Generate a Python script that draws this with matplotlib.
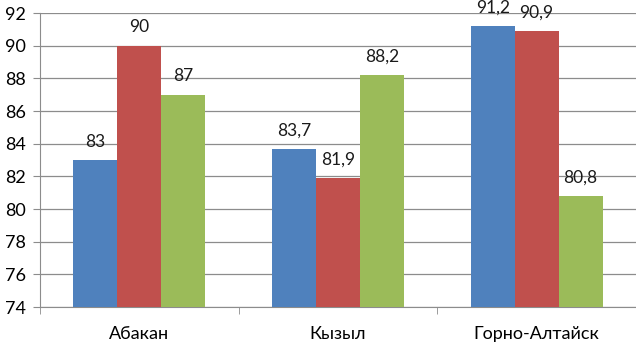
import numpy as np
import matplotlib.pyplot as plt

categories = ["Абакан", "Кызыл", "Горно-Алтайск"]
series_a = [83, 83.7, 91.2]
series_b = [90, 81.9, 90.9]
series_c = [87, 88.2, 80.8]
yticks = [74, 76, 78, 80, 82, 84, 86, 88, 90, 92]

colors = ["#4F81BD", "#C0504D", "#9BBB59"]
plt.rcParams["font.family"] = ["Lato", "DejaVu Sans"]

fig = plt.figure(figsize=(6.36, 3.45), dpi=100)
ax = fig.add_axes([40 / 636, 1 - 307 / 345, 1 - 40 / 636, (307 - 13) / 345])

x = np.arange(len(categories))
w = 0.221
for i, vals in enumerate([series_a, series_b, series_c]):
    pos = x + (i - 1) * w
    ax.bar(pos, vals, width=w, color=colors[i], zorder=3)
    for px, v in zip(pos, vals):
        lbl = f"{v:g}".replace(".", ",")
        ax.annotate(lbl, (px, v), xytext=(0, 9.5), textcoords="offset points",
                    ha="center", va="baseline", fontsize=12.5, color="#1a1a1a",
                    annotation_clip=False, zorder=4)

ax.set_ylim(74, 92)
ax.set_xlim(-0.5, 2.5)
ax.set_yticks(yticks)
ax.set_yticklabels([str(t) for t in yticks], fontsize=13)
ax.grid(axis="y", color="#8c8c8c", linewidth=0.9, zorder=0)

ax.set_xticks(x)
ax.set_xticklabels(categories, fontsize=13)
ax.set_xticks([-0.5, 0.5, 1.5, 2.5], minor=True)
ax.tick_params(axis="x", which="major", length=0, pad=14)
ax.tick_params(axis="x", which="minor", length=5, color="#8c8c8c")
ax.tick_params(axis="y", length=5, color="#8c8c8c", pad=5)

for s in ["top", "right"]:
    ax.spines[s].set_visible(False)
for s in ["left", "bottom"]:
    ax.spines[s].set_color("#8c8c8c")

fig.savefig("out.png", dpi=100)
